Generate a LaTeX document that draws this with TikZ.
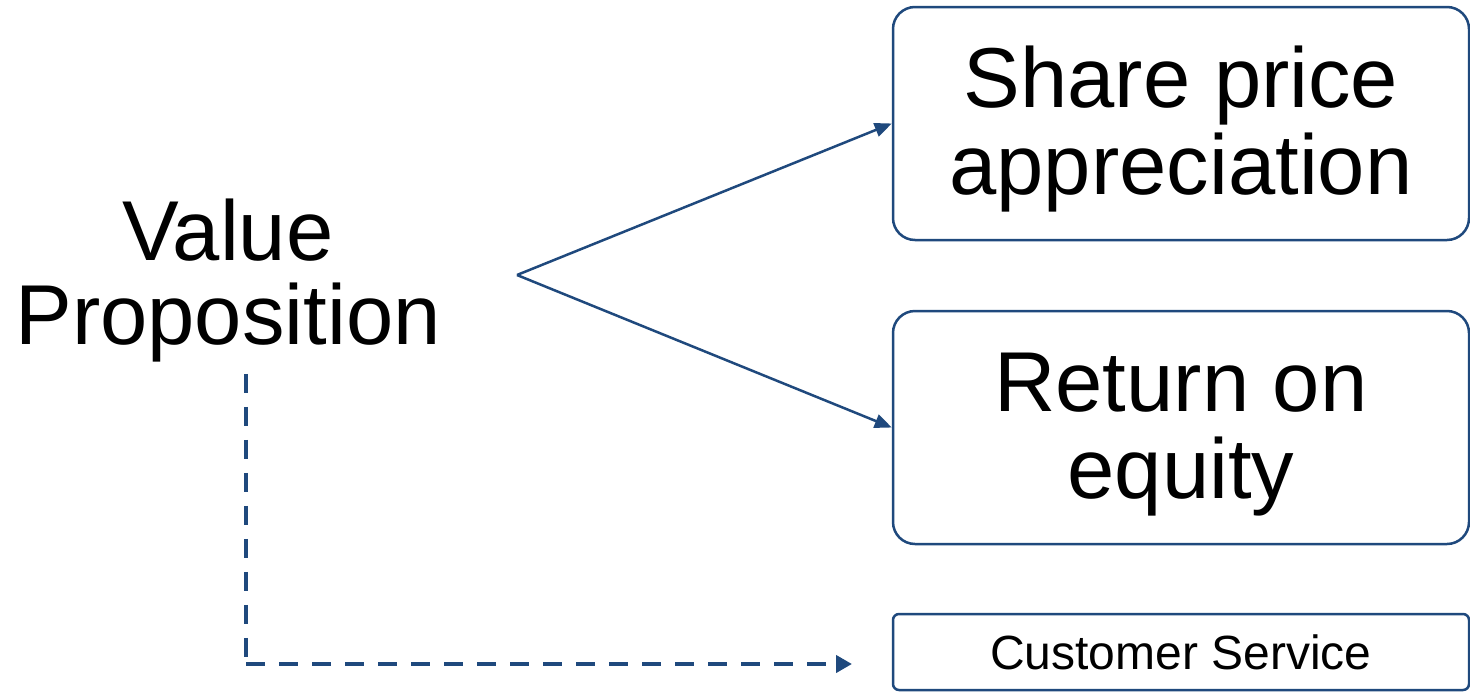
\documentclass[tikz,border=0pt]{standalone}
\usepackage{fontspec}
\setmainfont{Liberation Sans}
\usetikzlibrary{arrows.meta}
\definecolor{navy}{RGB}{31,73,125}
\newcommand{\boxlines}[2]{\begin{tabular}{@{}c@{}}\rule{0pt}{80pt}#1\\#2\end{tabular}}
\begin{document}
\begin{tikzpicture}[x=1pt,y=-1pt,
  bigbox/.style={draw=navy, line width=2.5pt, rounded corners=22pt, minimum width=576pt, minimum height=233pt, align=center, inner sep=0pt, font=\fontsize{85}{84}\selectfont},
  smallbox/.style={draw=navy, line width=2.5pt, rounded corners=6pt, minimum width=576pt, minimum height=76pt, align=center, inner sep=0pt, font=\fontsize{48}{50}\selectfont},
  bigtext/.style={align=center, inner sep=0pt, font=\fontsize{85}{84}\selectfont},
  link/.style={draw=navy, line width=2.5pt, -{Triangle[length=17pt,width=14pt]}},
  dashlink/.style={draw=navy, line width=4.5pt, dash pattern=on 19pt off 14pt}]
\useasboundingbox[fill=white] (0,0) rectangle (1470,691);
\node[bigtext] (vp) at (228,281) {Value\\Proposition};
\node[bigbox] (spa) at (1181,123.5) {\boxlines{Share price}{appreciation}};
\node[bigbox] (roe) at (1181,427.5) {\boxlines{Return on}{equity}};
\node[smallbox] (cs) at (1181,652) {Customer Service};
\coordinate (split) at (517,275);
\coordinate (corner) at (246,664);
\coordinate (csend) at (852,664);
\draw[link] (split) -- (spa.west);
\draw[link] (split) -- (roe.west);
\draw[dashlink] (vp.south -| corner) ++(0,11) -- (corner);
\draw[dashlink, -{Triangle[length=16pt,width=17pt]}] (corner) -- (csend);
\end{tikzpicture}
\end{document}
